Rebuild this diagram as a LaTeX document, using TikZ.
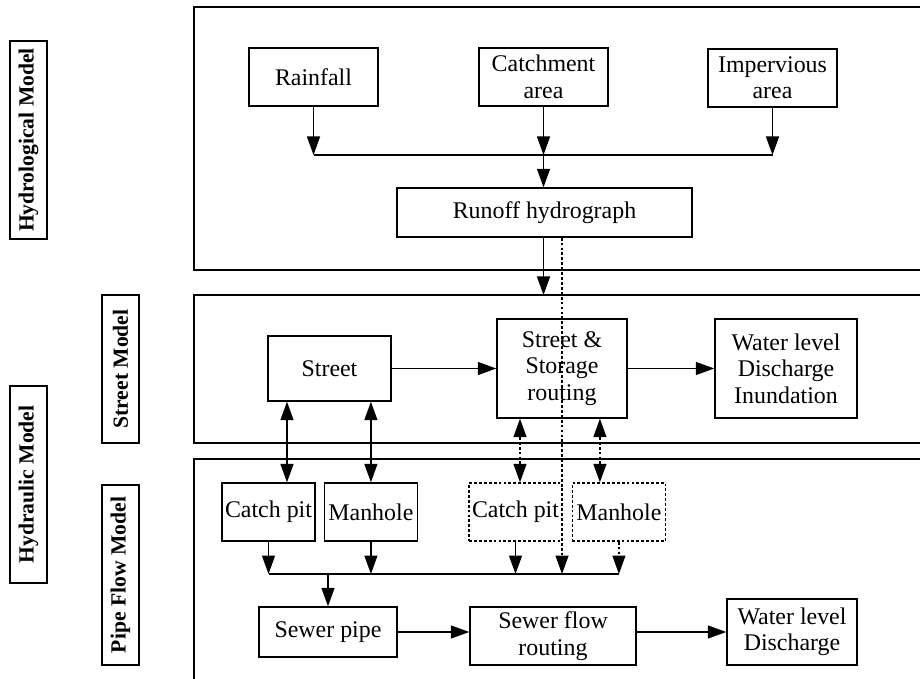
\documentclass[tikz,border=0pt]{standalone}
\usepackage{fontspec}
\setmainfont{Liberation Serif}
\usetikzlibrary{arrows.meta, positioning}

\begin{document}
\begin{tikzpicture}[
    line width=0.8pt,
    node distance=0.16cm,
    box/.style={draw, inner sep=1pt, align=center, font=\fontsize{13.6}{15}\selectfont},
    sidebox/.style={draw, rotate=90, minimum height=0.74cm, inner sep=1pt, font=\fontsize{12.3}{14}\selectfont\bfseries},
    arrow/.style={-{Triangle[length=3.7mm, width=2.6mm]}},
    dblarrow/.style={{Triangle[length=3.7mm, width=2.6mm]}-{Triangle[length=3.7mm, width=2.6mm]}},
    dashline/.style={dash pattern=on 1.6pt off 1.2pt}
]
    \clip (0,0) rectangle (18.4,-13.58);

    \draw (3.88,-0.14) rectangle (19,-5.4);
    \draw (3.88,-5.9) rectangle (19,-8.86);
    \draw (3.88,-9.18) rectangle (19,-14);

    \node[sidebox, minimum width=3.96cm] (hydroLbl)     at (0.57,-2.8)  {Hydrological Model};
    \node[sidebox, minimum width=3.94cm] (hydraulicLbl) at (0.57,-9.69) {Hydraulic Model};
    \node[sidebox, minimum width=2.96cm] (streetLbl)    at (2.41,-7.38) {Street Model};
    \node[sidebox, minimum width=3.6cm]  (pipeLbl)      at (2.41,-11.5) {Pipe Flow Model};

    \node[box, minimum width=2.58cm, minimum height=1.16cm] (rain)   at (6.27,-1.54)  {Rainfall};
    \node[box, minimum width=2.58cm, minimum height=1.16cm] (catch)  at (10.87,-1.54) {Catchment\\area};
    \node[box, minimum width=2.58cm, minimum height=1.16cm] (imperv) at (15.45,-1.56) {Impervious\\area};
    \node[box, minimum width=5.9cm, minimum height=0.98cm]  (runoff) at (10.89,-4.25) {Runoff hydrograph};

    \node[box, minimum width=2.46cm, minimum height=1.3cm]  (street)  at (6.59,-7.37)  {Street};
    \node[box, minimum width=2.6cm, minimum height=1.98cm]  (storage) at (11.24,-7.37) {Street \&\\Storage\\routing};
    \node[box, minimum width=2.84cm, minimum height=1.98cm] (wlA)     at (15.72,-7.37) {Water level\\Discharge\\Inundation};

    \node[box, minimum width=1.86cm, minimum height=1.16cm] (pitA) at (5.37,-10.24) {Catch pit};
    \node[box, minimum width=1.86cm, minimum height=1.16cm, right=of pitA] (manA) {Manhole};
    \node[box, dashline, minimum width=1.86cm, minimum height=1.16cm] (pitB) at (10.31,-10.24) {Catch pit};
    \node[box, dashline, minimum width=1.86cm, minimum height=1.16cm, right=0.18cm of pitB] (manB) {Manhole};

    \node[box, minimum width=2.76cm, minimum height=1.0cm]  (sewer) at (6.56,-12.64)  {Sewer pipe};
    \node[box, minimum width=3.32cm, minimum height=1.16cm] (flow)  at (11.06,-12.72) {Sewer flow\\routing};
    \node[box, minimum width=2.6cm, minimum height=1.32cm]  (wlB)   at (15.84,-12.64) {Water level\\Discharge};

    \coordinate (upperBus)  at (0,-3.1);
    \coordinate (streetTop) at (0,-5.9);
    \coordinate (lowerBus)  at (0,-11.48);
    \coordinate (a1) at ([xshift=3.7mm]pitA.north);
    \coordinate (b1) at ([xshift=0.9mm]pitB.north);
    \coordinate (b2) at ([xshift=-3.8mm]manB.north);

    \draw[arrow] (rain) -- (rain |- upperBus);
    \draw[arrow] (catch) -- (catch |- upperBus);
    \draw[arrow] (imperv) -- (imperv |- upperBus);
    \draw (rain |- upperBus) -- (imperv |- upperBus);
    \draw[arrow] (catch |- upperBus) -- (runoff.north -| catch);
    \draw[arrow] (runoff.south -| catch) -- (catch |- streetTop);
    \draw[arrow, dashline] (runoff.south -| storage) -- (storage |- lowerBus);

    \draw[arrow] (street) -- (storage);
    \draw[arrow] (storage) -- (wlA);
    \draw[dblarrow] (a1 |- street.south) -- (a1);
    \draw[dblarrow] (manA.north |- street.south) -- (manA.north);
    \draw[dblarrow, dashline] (b1 |- storage.south) -- (b1);
    \draw[dblarrow, dashline] (b2 |- storage.south) -- (b2);

    \draw[arrow] (pitA) -- (pitA |- lowerBus);
    \draw[arrow] (manA) -- (manA |- lowerBus);
    \draw[arrow] (pitB) -- (pitB |- lowerBus);
    \draw[arrow, dashline] (manB) -- (manB |- lowerBus);
    \draw (pitA |- lowerBus) -- (manB |- lowerBus);
    \draw[arrow] (sewer.north |- lowerBus) -- (sewer.north);
    \draw[arrow] (sewer.east) -- (sewer.east -| flow.west);
    \draw[arrow] (wlB.west -| flow.east) -- (wlB.west);
\end{tikzpicture}
\end{document}
